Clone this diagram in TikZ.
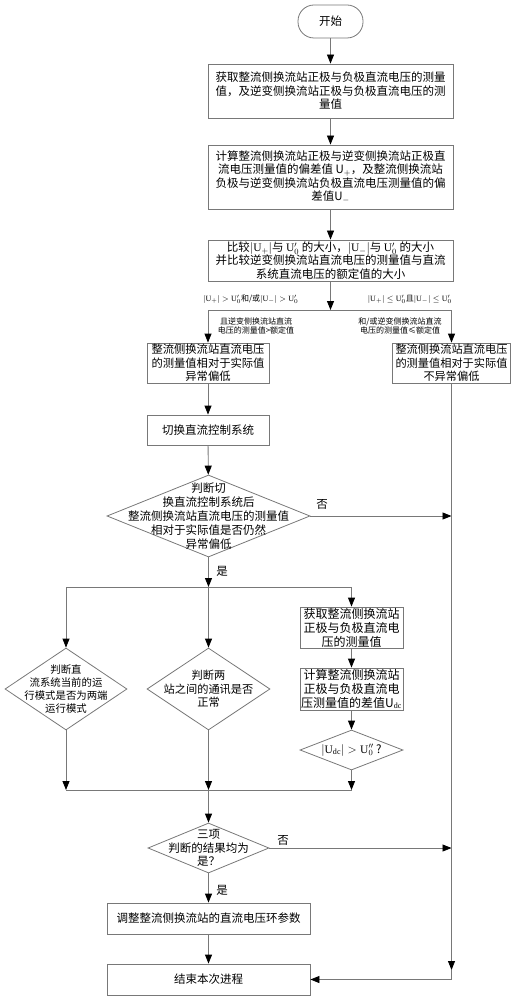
\documentclass[tikz,border=0pt]{standalone}
\usepackage{fontspec}
\setmainfont{Liberation Serif}
\newfontfamily\cjk{Noto Sans CJK SC}
\usetikzlibrary{arrows.meta,shapes.geometric}
\definecolor{ln}{RGB}{120,120,120}
\begin{document}
\begin{tikzpicture}[x=1pt,y=-1pt,
  base/.style={font=\cjk\fontsize{11.5}{13.5}\selectfont, align=center, inner sep=0pt},
  box/.style={base, draw=ln, line width=0.8pt},
  term/.style={box, rounded corners=16pt, minimum width=65pt, minimum height=33pt},
  dia/.style={diamond, draw=ln, line width=0.8pt, inner sep=0pt, aspect=2},
  dtext/.style={base, font=\cjk\fontsize{11.5}{14}\selectfont},
  lab/.style={base, font=\cjk\fontsize{11.5}{13}\selectfont},
  small/.style={base, font=\cjk\fontsize{8}{9}\selectfont},
  conn/.style={draw=ln, line width=0.8pt},
  arr/.style={conn, -{Triangle[length=9pt,width=7pt,color=black]}}
]
\useasboundingbox (0,0) rectangle (519,1000);

% nodes
\node[term] (start) at (330.5,21.5) {开始};
\node[box, minimum width=245pt, minimum height=54pt] (b1) at (330.5,91)
  {获取整流侧换流站正极与负极直流电压的测量\\值，及逆变侧换流站正极与负极直流电压的测\\量值};
\node[box, minimum width=245pt, minimum height=64pt] (b2) at (330.5,177)
  {计算整流侧换流站正极与逆变侧换流站正极直\\流电压测量值的偏差值 U$_+$，及整流侧换流站\\负极与逆变侧换流站负极直流电压测量值的偏\\差值U$_-$};
\node[box, minimum width=245pt, minimum height=41pt] (b3) at (330.5,260.5)
  {比较$|\mathrm{U}_+|$与 $\mathrm{U}'_0$ 的大小，$|\mathrm{U}_-|$与 $\mathrm{U}'_0$ 的大小\\并比较逆变侧换流站直流电压的测量值与直流\\系统直流电压的额定值的大小};
\node[box, minimum width=122pt, minimum height=40pt, font=\cjk\fontsize{11.3}{13.3}\selectfont] (b4l) at (208,363)
  {整流侧换流站直流电压\\的测量值相对于实际值\\异常偏低};
\node[box, minimum width=118pt, minimum height=40pt, font=\cjk\fontsize{11.2}{13.3}\selectfont] (b4r) at (451.5,363)
  {整流侧换流站直流电压\\的测量值相对于实际值\\不异常偏低};
\node[box, minimum width=122pt, minimum height=30pt] (b5) at (208,430) {切换直流控制系统};

\node[dia, minimum width=203pt, minimum height=82pt] (d1) at (208.5,516) {};
\node[dtext] (d1t) at (d1.center) {判断切\\换直流控制系统后\\整流侧换流站直流电压的测量值\\相对于实际值是否仍然\\异常偏低};

\node[dia, minimum width=122pt, minimum height=82pt] (dl) at (66,689) {};
\node[dtext, font=\cjk\fontsize{10.4}{12.8}\selectfont] (dlt) at (dl.center) {判断直\\流系统当前的运\\行模式是否为两端\\运行模式};
\node[dia, minimum width=123pt, minimum height=82pt] (dm) at (208.5,689) {};
\node[dtext, font=\cjk\fontsize{11.2}{13.5}\selectfont] (dmt) at (dm.center) {判断两\\站之间的通讯是否\\正常};

\node[box, minimum width=103pt, minimum height=41pt, font=\cjk\fontsize{12}{14}\selectfont] (b6) at (351.5,627.5)
  {获取整流侧换流站\\正极与负极直流电\\压的测量值};
\node[box, minimum width=103pt, minimum height=42pt, font=\cjk\fontsize{12}{14}\selectfont] (b7) at (351.5,689)
  {计算整流侧换流站\\正极与负极直流电\\压测量值的差值U$_{\mathrm{dc}}$};
\node[dia, minimum width=103pt, minimum height=40pt] (d3) at (351.5,750) {};
\node[dtext] (d3t) at (d3.center) {$|\mathrm{U}_{\mathrm{dc}}|>\mathrm{U}''_0$ ?};

\node[dia, minimum width=121pt, minimum height=50pt] (d4) at (208.5,848) {};
\node[dtext, font=\cjk\fontsize{11.5}{13.5}\selectfont] (d4t) at (d4.center) {三项\\判断的结果均为\\是？};

\node[box, minimum width=203pt, minimum height=31pt] (b8) at (208.5,918.5) {调整整流侧换流站的直流电压环参数};
\node[box, minimum width=203pt, minimum height=31pt] (b9) at (208.5,979.5) {结束本次进程};

% labels
\node[lab] (no1) at (322,504) {否};
\node[lab] (yes1) at (222,571) {是};
\node[lab] (no2) at (283,840) {否};
\node[lab] (yes2) at (222,890) {是};
\node[small, anchor=south west] (labl) at (203,304) {$|\mathrm{U}_+|>\mathrm{U}'_0$和/或$|\mathrm{U}_-|>\mathrm{U}'_0$};
\node[small, anchor=south east] (labr) at (452,304) {$|\mathrm{U}_+|\leq\mathrm{U}'_0$且$|\mathrm{U}_-|\leq\mathrm{U}'_0$};
\node[small] (labl2) at (256,326) {且逆变侧换流站直流\\电压的测量值>额定值};
\node[small] (labr2) at (400,326) {和/或逆变侧换流站直流\\电压的测量值≤额定值};

% coordinates
\coordinate (s1) at (330.5,310);
\coordinate (s1l) at (208,310);
\coordinate (s1r) at (451.5,310);
\coordinate (rn1) at (451.5,516);
\coordinate (s2) at (208.5,587);
\coordinate (s2l) at (66,587);
\coordinate (s2r) at (351.5,587);
\coordinate (j) at (208.5,790);
\coordinate (jl) at (66,790);
\coordinate (jr) at (351.5,790);
\coordinate (rn2) at (451.5,848);
\coordinate (rb) at (451.5,970);
\coordinate (rc) at (451.5,979.5);

% connectors
\draw[arr] (start) -- (b1);
\draw[arr] (b1) -- (b2);
\draw[arr] (b2) -- (b3);
\draw[arr] (b3) -- (s1);
\draw[conn] (s1l) -- (s1r);
\draw[arr] (s1l) -- (b4l);
\draw[arr] (s1r) -- (b4r);
\draw[arr] (b4l) -- (b5);
\draw[arr] (b5) -- (d1);
\draw[arr] (d1.east) -- (rn1);
\draw[arr] (d1.south) -- (s2);
\draw[conn] (s2l) -- (s2r);
\draw[arr] (s2l) -- (dl.north);
\draw[arr] (s2) -- (dm.north);
\draw[arr] (s2r) -- (b6);
\draw[arr] (b6) -- (b7);
\draw[arr] (b7) -- (d3.north);
\draw[arr] (dl.south) -- (jl);
\draw[arr] (dm.south) -- (j);
\draw[arr] (d3.south) -- (jr);
\draw[conn] (jl) -- (jr);
\draw[arr] (j) -- (d4.north);
\draw[arr] (d4.east) -- (rn2);
\draw[arr] (d4.south) -- (b8);
\draw[arr] (b8) -- (b9);
\draw[arr] (b4r) -- (rb);
\draw[arr] (rb) -- (rc) -- (b9.east);
\end{tikzpicture}
\end{document}
